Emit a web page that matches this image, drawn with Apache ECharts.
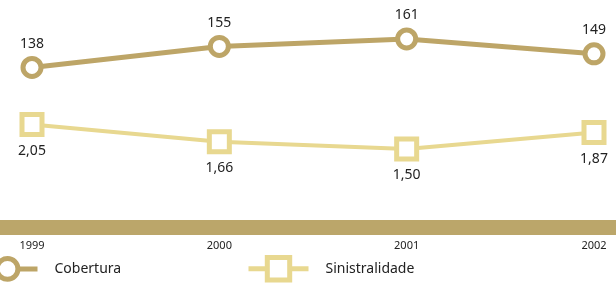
<!DOCTYPE html>
<html>
<head>
<meta charset="utf-8">
<script src="https://cdn.jsdelivr.net/npm/echarts@6/dist/echarts.min.js"></script>
<style>
  html, body { margin: 0; padding: 0; background: #fff; }
  #chart { width: 616px; height: 283px; }
</style>
</head>
<body>
<div id="chart"></div>
<script>
const years = ['1999', '2000', '2001', '2002']
const cobertura = [138, 155, 161, 149]
const sinistralidade = [2.05, 1.66, 1.50, 1.87]

const darkGold = '#bda567'
const lightGold = '#e8d890'
const font = '"Noto Sans", sans-serif'

const chart = echarts.init(document.getElementById('chart'))

chart.setOption({
  animation: false,
  textStyle: { fontFamily: font },
  grid: { left: 32, right: 22, top: 10, bottom: 48 },
  graphic: [
    {
      type: 'rect',
      left: 0,
      top: 220,
      shape: { width: 616, height: 15 },
      style: { fill: '#bba66a' },
      z: -1,
    },
  ],
  legend: [
    {
      data: ['Cobertura'],
      left: -25,
      top: 256,
      padding: 0,
      itemWidth: 60,
      itemHeight: 26,
      itemStyle: { borderWidth: 5 },
      lineStyle: { width: 5 },
      textStyle: { fontSize: 14, color: '#222', padding: [0, 0, 0, 12], fontFamily: font },
    },
    {
      data: ['Sinistralidade'],
      left: 246,
      top: 255,
      padding: 0,
      itemWidth: 60,
      itemHeight: 28,
      itemStyle: { borderWidth: 5 },
      lineStyle: { width: 5 },
      textStyle: { fontSize: 14, color: '#222', padding: [0, 0, 0, 12], fontFamily: font },
    },
  ],
  xAxis: {
    type: 'category',
    data: years,
    boundaryGap: false,
    axisLine: { show: false },
    axisTick: { show: false },
    axisLabel: { fontSize: 11, color: '#222', margin: 5, fontFamily: font },
  },
  yAxis: [
    { type: 'value', min: 2.8, max: 184.4, show: false, splitLine: { show: false } },
    { type: 'value', min: -0.434, max: 4.62, show: false, splitLine: { show: false } },
  ],
  series: [
    {
      name: 'Cobertura',
      type: 'line',
      yAxisIndex: 0,
      data: cobertura,
      symbol: 'circle',
      symbolSize: 18,
      lineStyle: { color: darkGold, width: 5 },
      itemStyle: { color: '#fff', borderColor: darkGold, borderWidth: 5 },
      label: {
        show: true,
        position: 'top',
        distance: 5,
        fontSize: 14,
        color: '#222',
        fontFamily: font,
      },
    },
    {
      name: 'Sinistralidade',
      type: 'line',
      yAxisIndex: 1,
      data: sinistralidade,
      symbol: 'rect',
      symbolSize: 20,
      lineStyle: { color: lightGold, width: 4 },
      itemStyle: { color: '#fff', borderColor: lightGold, borderWidth: 5 },
      label: {
        show: true,
        position: 'bottom',
        distance: 7,
        fontSize: 14,
        color: '#222',
        fontFamily: font,
        formatter: (p) => p.value.toFixed(2).replace('.', ','),
      },
    },
  ],
})
</script>
</body>
</html>
